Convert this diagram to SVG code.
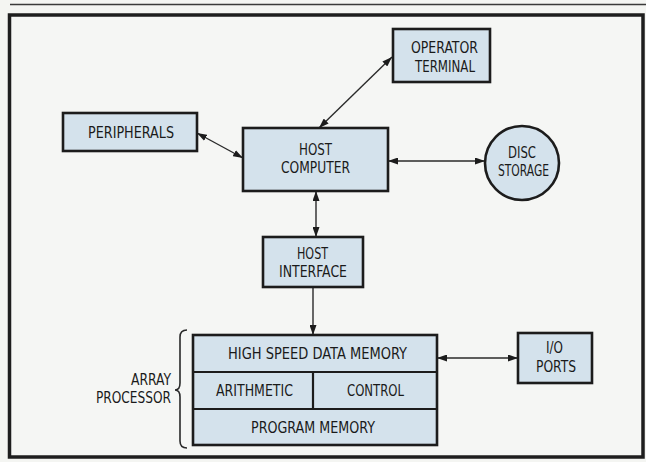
<svg xmlns="http://www.w3.org/2000/svg" width="646" height="462" viewBox="0 0 646 462">
  <style>
    .box { fill: #d4e2ec; stroke: #1c1c1c; stroke-width: 2.6; }
    .div { fill: none; stroke: #1c1c1c; stroke-width: 2.2; }
    .lbl { font-family: "Liberation Sans Narrow", "DejaVu Sans Condensed", "Liberation Sans", sans-serif; font-size: 16px; fill: #1a1a1a; }
    .con { fill: none; stroke: #2a2a2a; stroke-width: 1.4; }
  </style>
  <defs>
    <marker id="ah" viewBox="0 0 10 7" refX="10" refY="3.5" markerUnits="userSpaceOnUse" markerWidth="10" markerHeight="7" orient="auto-start-reverse">
      <path d="M0,0 L10,3.5 L0,7 Z" fill="#1c1c1c"/>
    </marker>
  </defs>
  <rect x="0" y="0" width="646" height="462" fill="#f4f5f2"/>
  <line x1="10" y1="4.5" x2="646" y2="4.5" stroke="#3a3a3a" stroke-width="1.5"/>
  <rect x="9.5" y="15" width="633.5" height="442" fill="#f5f6f4" stroke="#1e1e1e" stroke-width="3.5"/>

  <g id="connectors">
    <line class="con" x1="197" y1="133" x2="243" y2="158" marker-start="url(#ah)" marker-end="url(#ah)"/>
    <line class="con" x1="319" y1="128" x2="392" y2="57" marker-start="url(#ah)" marker-end="url(#ah)"/>
    <line class="con" x1="388" y1="161" x2="485" y2="161" marker-start="url(#ah)" marker-end="url(#ah)"/>
    <line class="con" x1="316" y1="191" x2="316" y2="237" marker-start="url(#ah)" marker-end="url(#ah)"/>
    <line class="con" x1="313" y1="287" x2="313" y2="335" marker-end="url(#ah)"/>
    <line class="con" x1="437" y1="358" x2="518" y2="358" marker-start="url(#ah)" marker-end="url(#ah)"/>
  </g>

  <g id="operator-terminal">
    <rect class="box" x="393" y="29" width="97" height="53"/>
    <text class="lbl" x="411" y="53" textLength="67" lengthAdjust="spacingAndGlyphs">OPERATOR</text>
    <text class="lbl" x="415" y="72" textLength="60" lengthAdjust="spacingAndGlyphs">TERMINAL</text>
  </g>

  <g id="peripherals">
    <rect class="box" x="63" y="113" width="134" height="38"/>
    <text class="lbl" x="88" y="138" textLength="86" lengthAdjust="spacingAndGlyphs">PERIPHERALS</text>
  </g>

  <g id="host-computer">
    <rect class="box" x="243" y="128" width="145" height="63"/>
    <text class="lbl" x="299" y="155" textLength="33" lengthAdjust="spacingAndGlyphs">HOST</text>
    <text class="lbl" x="281" y="173" textLength="69" lengthAdjust="spacingAndGlyphs">COMPUTER</text>
  </g>

  <g id="disc-storage">
    <circle class="box" cx="522" cy="163" r="37"/>
    <text class="lbl" x="508" y="158" textLength="28" lengthAdjust="spacingAndGlyphs">DISC</text>
    <text class="lbl" x="498" y="176" textLength="51" lengthAdjust="spacingAndGlyphs">STORAGE</text>
  </g>

  <g id="host-interface">
    <rect class="box" x="263" y="237" width="100" height="50"/>
    <text class="lbl" x="297" y="259" textLength="31" lengthAdjust="spacingAndGlyphs">HOST</text>
    <text class="lbl" x="279" y="277" textLength="68" lengthAdjust="spacingAndGlyphs">INTERFACE</text>
  </g>

  <g id="array-processor">
    <rect class="box" x="193" y="335" width="244" height="110"/>
    <line class="div" x1="193" y1="372" x2="437" y2="372"/>
    <line class="div" x1="193" y1="409" x2="437" y2="409"/>
    <line class="div" x1="313" y1="372" x2="313" y2="409"/>
    <text class="lbl" x="228" y="359" textLength="179" lengthAdjust="spacingAndGlyphs">HIGH SPEED DATA MEMORY</text>
    <text class="lbl" x="216" y="396" textLength="77" lengthAdjust="spacingAndGlyphs">ARITHMETIC</text>
    <text class="lbl" x="347" y="396" textLength="57" lengthAdjust="spacingAndGlyphs">CONTROL</text>
    <text class="lbl" x="251" y="433" textLength="124" lengthAdjust="spacingAndGlyphs">PROGRAM MEMORY</text>
    <path d="M187,330 Q180,330 180,337 L180,383 Q180,390 175,390 Q180,390 180,397 L180,441 Q180,448 187,448" fill="none" stroke="#2a2a2a" stroke-width="1.6"/>
    <text class="lbl" x="131" y="385" textLength="40" lengthAdjust="spacingAndGlyphs">ARRAY</text>
    <text class="lbl" x="96" y="403" textLength="75" lengthAdjust="spacingAndGlyphs">PROCESSOR</text>
  </g>

  <g id="io-ports">
    <rect class="box" x="518" y="333" width="74" height="50"/>
    <text class="lbl" x="546" y="353" textLength="17" lengthAdjust="spacingAndGlyphs">I/O</text>
    <text class="lbl" x="536" y="372" textLength="40" lengthAdjust="spacingAndGlyphs">PORTS</text>
  </g>
</svg>
